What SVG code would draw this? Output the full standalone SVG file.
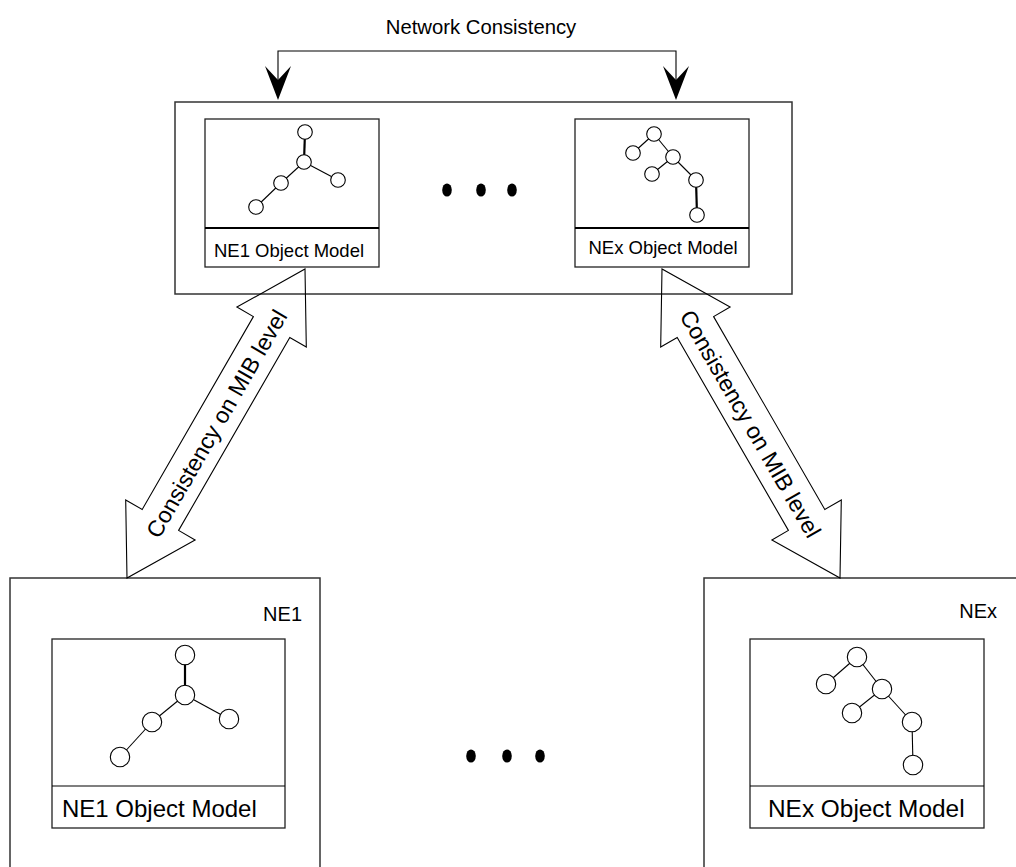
<svg xmlns="http://www.w3.org/2000/svg" width="1016" height="867" viewBox="0 0 1016 867">
<defs>
<style>
.box{fill:none;stroke:#222;stroke-width:1.3}
.obox{fill:none;stroke:#333;stroke-width:1.5}
.ln{stroke:#000;stroke-width:1.1;fill:none}
.thk{stroke:#000;stroke-width:2.2;fill:none}
.nd{fill:#fff;stroke:#000;stroke-width:1.1}
.dot{fill:#000}
.t{font-family:"Liberation Sans",Arial,Helvetica,sans-serif;fill:#000}
.blk{fill:none;stroke:#000;stroke-width:1.1;stroke-linejoin:miter}
</style>
</defs>
<rect width="1016" height="867" fill="#fff"/>

<g id="network-consistency">
<text class="t" x="481" y="34" font-size="20.3" text-anchor="middle">Network Consistency</text>
</g>

<g id="system-box">
<rect class="obox" x="175" y="102" width="617" height="192"/>
<g id="ne1-model-top">
<rect class="box" x="205" y="119" width="174" height="148"/>
<line class="thk" x1="205" y1="228" x2="379" y2="228"/>
<line class="thk" x1="305" y1="132" x2="304" y2="162"/>
<line class="ln" x1="304" y1="162" x2="338" y2="180"/>
<line class="ln" x1="304" y1="162" x2="281" y2="183"/>
<line class="ln" x1="281" y1="183" x2="256" y2="207"/>
<circle class="nd" cx="305" cy="132" r="7.3"/>
<circle class="nd" cx="304" cy="162" r="7.3"/>
<circle class="nd" cx="338" cy="180" r="7.3"/>
<circle class="nd" cx="281" cy="183" r="7.3"/>
<circle class="nd" cx="256" cy="207" r="7.3"/>
<text class="t" x="289" y="257" font-size="18.5" text-anchor="middle">NE1 Object Model</text>
</g>
<g id="top-dots">
<ellipse class="dot" cx="447" cy="190" rx="4.8" ry="6.6"/>
<ellipse class="dot" cx="481" cy="190" rx="4.8" ry="6.6"/>
<ellipse class="dot" cx="512" cy="190" rx="4.8" ry="6.6"/>
</g>
<g id="nex-model-top">
<rect class="box" x="575" y="119" width="174" height="148"/>
<line class="thk" x1="575" y1="228" x2="749" y2="228"/>
<line class="ln" x1="654" y1="134" x2="633" y2="153"/>
<line class="ln" x1="654" y1="134" x2="673" y2="157"/>
<line class="ln" x1="673" y1="157" x2="652" y2="174"/>
<line class="ln" x1="673" y1="157" x2="696" y2="180"/>
<line class="thk" x1="696" y1="180" x2="697" y2="215"/>
<circle class="nd" cx="654" cy="134" r="7.3"/>
<circle class="nd" cx="633" cy="153" r="7.3"/>
<circle class="nd" cx="673" cy="157" r="7.3"/>
<circle class="nd" cx="652" cy="174" r="7.3"/>
<circle class="nd" cx="696" cy="180" r="7.3"/>
<circle class="nd" cx="697" cy="215" r="7.3"/>
<text class="t" x="663" y="253.5" font-size="18.5" text-anchor="middle">NEx Object Model</text>
</g>
</g>

<g id="ne1">
<rect class="obox" x="10" y="578" width="310" height="310"/>
<text class="t" x="302" y="621" font-size="20" text-anchor="end">NE1</text>
<g id="ne1-model">
<rect class="box" x="52" y="639" width="233" height="189"/>
<line class="ln" x1="52" y1="786" x2="285" y2="786"/>
<line class="thk" x1="185" y1="655" x2="185" y2="695"/>
<line class="ln" x1="185" y1="695" x2="229" y2="719"/>
<line class="ln" x1="185" y1="695" x2="152" y2="722"/>
<line class="ln" x1="152" y1="722" x2="120" y2="757"/>
<circle class="nd" cx="185" cy="655" r="9.7"/>
<circle class="nd" cx="185" cy="695" r="9.7"/>
<circle class="nd" cx="229" cy="719" r="9.7"/>
<circle class="nd" cx="152" cy="722" r="9.7"/>
<circle class="nd" cx="120" cy="757" r="9.7"/>
<text class="t" x="62" y="817" font-size="24">NE1 Object Model</text>
</g>
</g>

<g id="bottom-dots">
<ellipse class="dot" cx="471" cy="756" rx="4.8" ry="6.6"/>
<ellipse class="dot" cx="507" cy="756" rx="4.8" ry="6.6"/>
<ellipse class="dot" cx="540" cy="756" rx="4.8" ry="6.6"/>
</g>

<g id="nex">
<rect class="obox" x="704" y="578" width="330" height="310"/>
<text class="t" x="997" y="618" font-size="20" text-anchor="end">NEx</text>
<g id="nex-model">
<rect class="box" x="750" y="639" width="234" height="189"/>
<line class="ln" x1="750" y1="786" x2="984" y2="786"/>
<line class="ln" x1="857" y1="657" x2="826" y2="684"/>
<line class="ln" x1="857" y1="657" x2="882" y2="689"/>
<line class="ln" x1="882" y1="689" x2="852" y2="713"/>
<line class="ln" x1="882" y1="689" x2="912" y2="722"/>
<line class="ln" x1="912" y1="722" x2="913" y2="765"/>
<circle class="nd" cx="857" cy="657" r="9.7"/>
<circle class="nd" cx="826" cy="684" r="9.7"/>
<circle class="nd" cx="882" cy="689" r="9.7"/>
<circle class="nd" cx="852" cy="713" r="9.7"/>
<circle class="nd" cx="912" cy="722" r="9.7"/>
<circle class="nd" cx="913" cy="765" r="9.7"/>
<text class="t" x="768" y="817" font-size="24.4">NEx Object Model</text>
</g>
</g>

<g id="connectors">
<polyline class="ln" points="278,90 278,51 676,51 676,90"/>
<polygon points="278,100 265,66 278,80 291,66" fill="#000"/>
<polygon points="676,100 663,66 676,80 689,66" fill="#000"/>
<polygon class="blk" points="305,269 306.3,347.1 289.8,337.6 178.6,530.4 195.1,539.9 127,578 125.7,499.9 142.2,509.4 253.4,316.6 236.9,307.1"/>
<text class="t" font-size="23" text-anchor="middle" transform="translate(223.5,427.8) rotate(-60.06)">Consistency on MIB level</text>
<polygon class="blk" points="662,269 660.7,347.1 677.2,337.6 788.4,530.4 771.9,539.9 840,578 841.3,499.9 824.8,509.4 713.6,316.6 730.1,307.1"/>
<text class="t" font-size="23" text-anchor="middle" transform="translate(743.5,427.8) rotate(60.06)">Consistency on MIB level</text>
</g>
</svg>
